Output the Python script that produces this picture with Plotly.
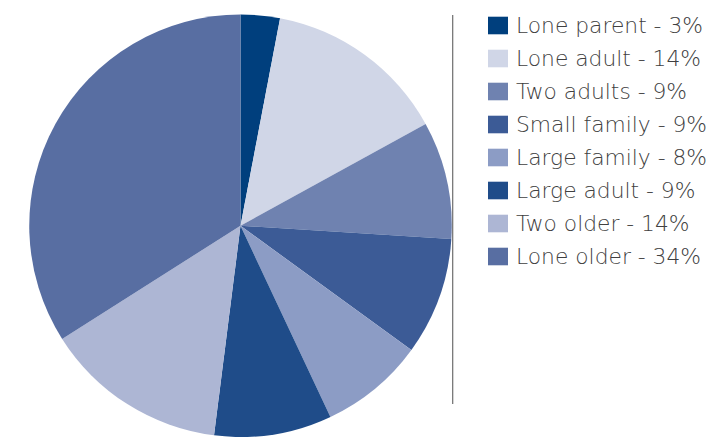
import plotly.graph_objects as go

# Household composition shares (%)
categories = ["Lone parent", "Lone adult", "Two adults", "Small family",
              "Large family", "Large adult", "Two older", "Lone older"]
shares = [3, 14, 9, 9, 8, 9, 14, 34]
colors = ["#003f7d", "#d0d6e7", "#6f82b0", "#3c5b96",
          "#8c9cc5", "#1f4c89", "#adb6d4", "#586ea2"]

W, H = 712, 437

# Pie geometry in pixels
cx, top = 240.5, 14.5
r = (H - top) / 2

fig = go.Figure(go.Pie(
    labels=categories,
    values=shares,
    marker=dict(colors=colors, line=dict(width=0)),
    sort=False,
    direction="clockwise",
    rotation=0,
    textinfo="none",
    hoverinfo="label+percent",
    showlegend=False,
    domain=dict(x=[(cx - r) / W, (cx + r) / W], y=[0, (H - top) / H]),
))

# Divider line between pie and key
fig.add_shape(type="line", xref="paper", yref="paper",
              x0=452.7 / W, x1=452.7 / W, y0=1 - 15 / H, y1=1 - 404 / H,
              line=dict(color="#6d6d6d", width=1.2))

# Key: coloured squares with labels
row0, step = 25.5, 33
for i, (name, val, col) in enumerate(zip(categories, shares, colors)):
    yc = row0 + i * step
    fig.add_shape(type="rect", xref="paper", yref="paper",
                  x0=488 / W, x1=508 / W,
                  y0=1 - (yc - 8.8) / H, y1=1 - (yc + 8.8) / H,
                  fillcolor=col, line=dict(width=0))
    fig.add_annotation(xref="paper", yref="paper",
                       x=514 / W, y=1 - yc / H,
                       xanchor="left", yanchor="middle",
                       text=f"{name} - {val}%", showarrow=False,
                       font=dict(family="DejaVu Sans", size=21.8, color="#404040",
                                 weight=200))

fig.update_layout(
    width=W, height=H,
    margin=dict(l=0, r=0, t=0, b=0),
    paper_bgcolor="white",
    plot_bgcolor="white",
)

fig.write_html("out.html")
